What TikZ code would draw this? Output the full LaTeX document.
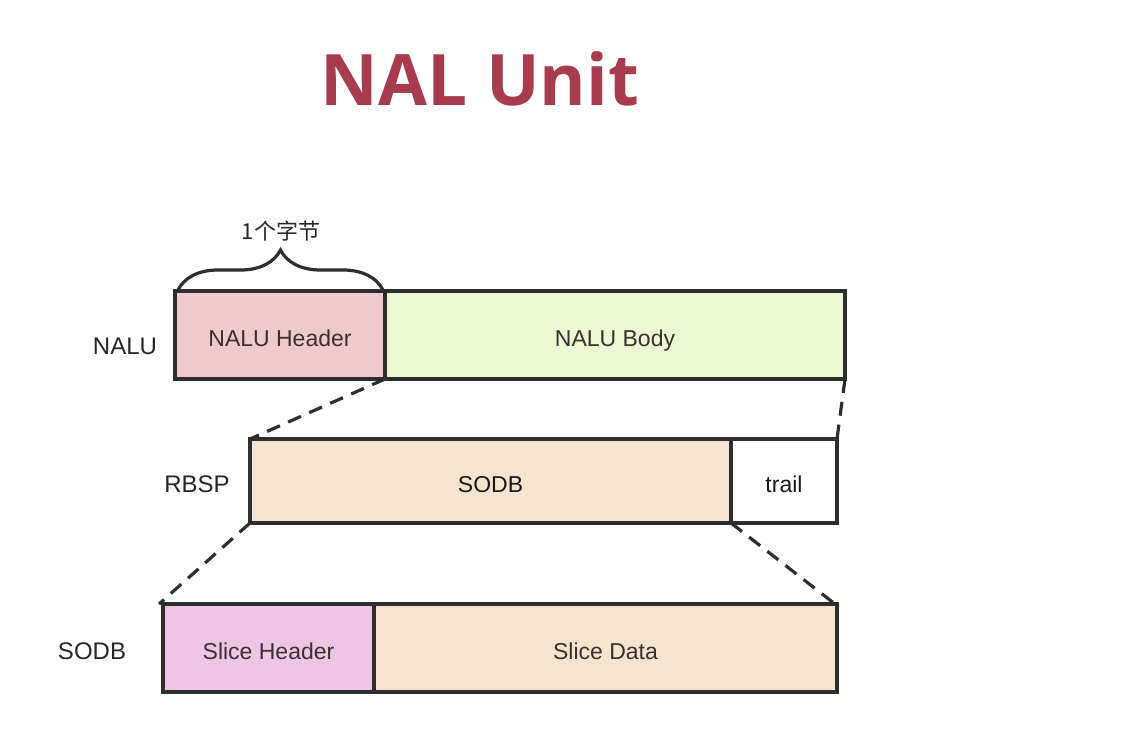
\documentclass[tikz,border=0pt]{standalone}
\usepackage{fontspec}
\setmainfont{Liberation Sans}
\newfontfamily\titlefont{Open Sans}
\newfontfamily\cjkfont{Noto Sans CJK SC}
\usetikzlibrary{decorations.pathreplacing}
\definecolor{titlered}{HTML}{A83B4C}
\definecolor{linegray}{HTML}{2E2E2E}
\definecolor{textgray}{HTML}{3A3030}
\definecolor{hdrpink}{HTML}{F0C9CD}
\definecolor{bodygreen}{HTML}{EBFAD2}
\definecolor{peach}{HTML}{F6E4D0}
\definecolor{slicepink}{HTML}{EEC5E5}
\begin{document}
\begin{tikzpicture}[x=1pt,y=-1pt,
  box/.style={draw=linegray, line width=3.2pt, inner sep=0pt, outer sep=0pt,
    anchor=north west, font=\fontsize{23}{23}\selectfont, text=textgray,
    text height=23pt, text depth=0.5pt},
  lbl/.style={font=\fontsize{24}{24}\selectfont, text=black!85},
  link/.style={draw=linegray, line width=3.2pt, dash pattern=on 14pt off 9pt},
  titlestyle/.style={font=\titlefont\bfseries\fontsize{71}{71}\selectfont, text=titlered, anchor=base}]
\useasboundingbox (0,0) rectangle (1122,750);
\node[titlestyle] (title) at (480,105) {NAL Unit};

\node[box, fill=hdrpink, minimum width=210pt, minimum height=88pt] (header) at (175,291) {NALU Header};
\node[box, fill=bodygreen, minimum width=460pt, minimum height=88pt] (body) at (385,291) {NALU Body};

\node[box, fill=peach, minimum width=481pt, minimum height=84pt, text=black!90] (sodb) at (250,439) {SODB};
\node[box, fill=white, minimum width=106pt, minimum height=84pt, text=black!90] (trail) at (731,439) {trail};

\node[box, fill=slicepink, minimum width=211pt, minimum height=88pt] (sliceh) at (163,604) {Slice Header};
\node[box, fill=peach, minimum width=463pt, minimum height=88pt] (sliced) at (374,604) {Slice Data};

\node[lbl] (lnalu) at (125,346) {NALU};
\node[lbl] (lrbsp) at (197,484) {RBSP};
\node[lbl] (lsodb) at (92,651) {SODB};

\draw[link] (header.south east) -- (sodb.north west);
\draw[link] (body.south east) -- (trail.north east);
\draw[link] (sodb.south west) -- ([xshift=-4pt]sliceh.north west);
\draw[link] (sodb.south east) -- ([xshift=-2pt]sliced.north east);

\draw[draw=linegray, line width=3.2pt, decorate, decoration={brace, amplitude=40pt}]
  ([xshift=3pt,yshift=1pt]header.north west) -- ([xshift=-2pt,yshift=1pt]header.north east);
\node[font=\cjkfont\fontsize{22}{22}\selectfont, text=black!85] (bytes) at (281,231) {1个字节};
\end{tikzpicture}
\end{document}
